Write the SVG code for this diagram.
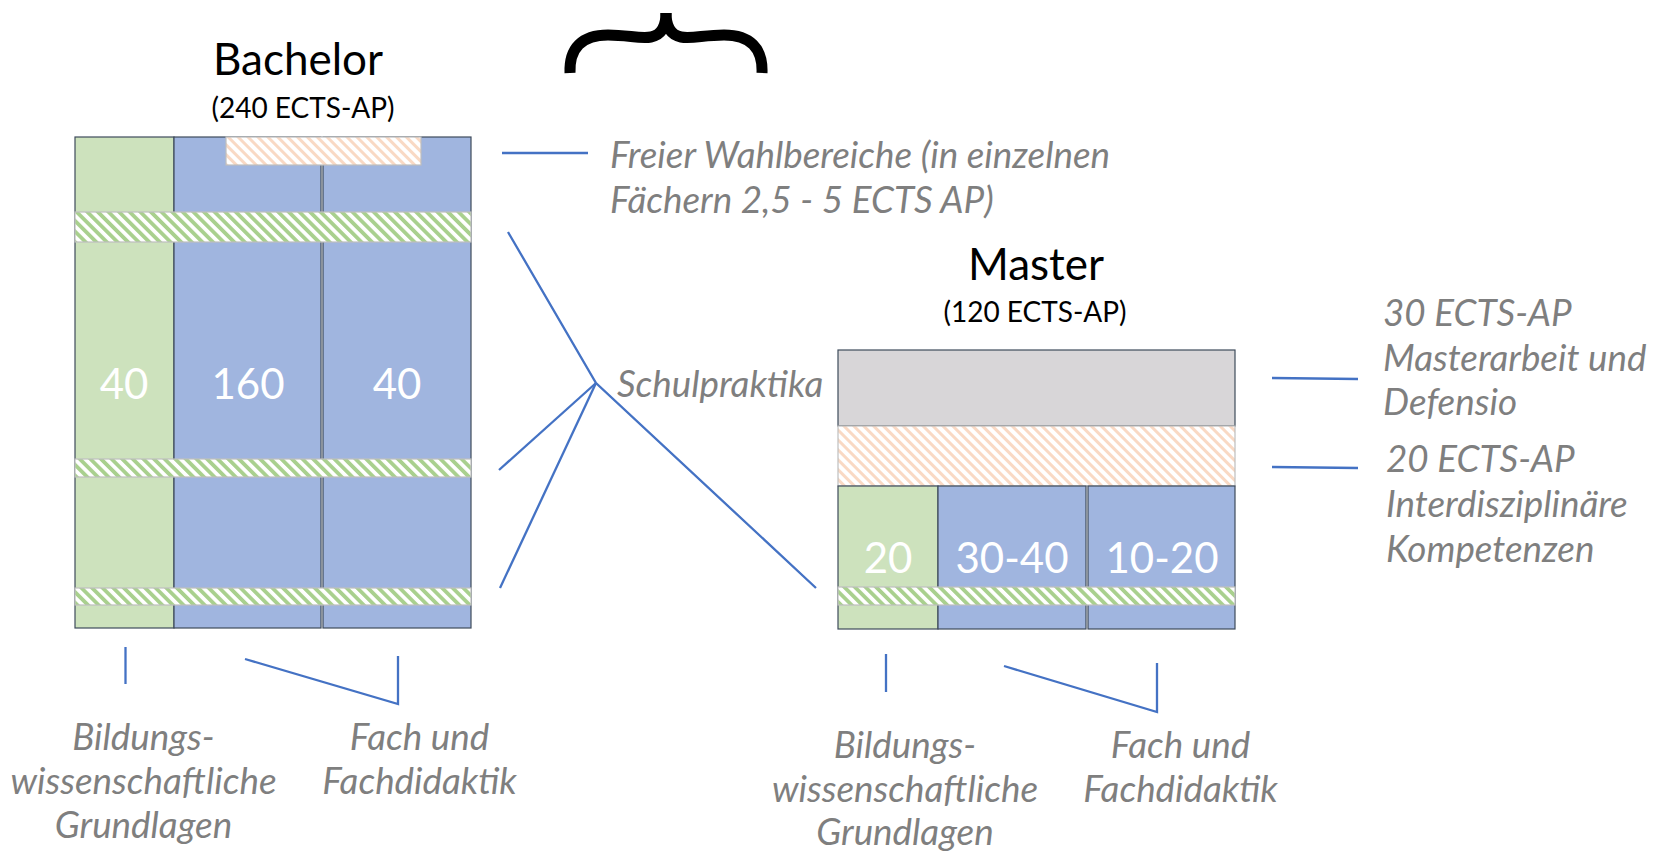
<svg xmlns="http://www.w3.org/2000/svg" width="1666" height="852" viewBox="0 0 1666 852">
<style>
.title{font-family:Lato,"Liberation Sans",sans-serif;fill:#000;text-anchor:middle}
.lbl{font-family:Lato,"Liberation Sans",sans-serif;font-style:italic;font-size:36.8px;fill:#7f7f7f}
.c{text-anchor:middle}
.num{font-family:Lato,"Liberation Sans",sans-serif;font-size:42px;fill:#fff;text-anchor:middle}
.box{stroke:#3e4b5b;stroke-width:1.2}
.g{fill:#cde2bd}
.b{fill:#a0b5df}
.gr{fill:#d8d6d8}
.hg{fill:url(#hatchG);stroke:#bfbfbf;stroke-width:1.2}
.ho{fill:url(#hatchO);stroke:#bfbfbf;stroke-width:1.2}
.ln{stroke:#4472c4;stroke-width:2.3;fill:none}
</style>
<defs>
<pattern id="hatchG" width="7.5" height="7.5" patternUnits="userSpaceOnUse" patternTransform="rotate(-45)">
<rect width="7.5" height="7.5" fill="#fff"/><rect width="3.8" height="7.5" fill="#a9d08e"/>
</pattern>
<pattern id="hatchO" width="7" height="7" patternUnits="userSpaceOnUse" patternTransform="rotate(-45)">
<rect width="7" height="7" fill="#fff"/><rect width="3" height="7" fill="#f9d9c4"/>
</pattern>
</defs>
<rect width="1666" height="852" fill="#fff"/>

<g id="brace" fill="none" stroke="#000" stroke-width="11" stroke-linejoin="round">
<path d="M570,73 C569,48 582,35 608,35 C628,35 640,39 651,37 C661,35 666,27 666,13"/>
<path d="M666,13 C666,27 671,35 681,37 C692,39 704,35 724,35 C750,35 763,48 762,73"/>
</g>

<g id="bachelor">
<text class="title" x="298" y="75" font-size="44">Bachelor</text>
<text class="title" x="303" y="118" font-size="28">(240 ECTS-AP)</text>
<rect class="box g" x="75" y="137" width="99" height="491"/>
<rect class="box b" x="174" y="137" width="147" height="491"/>
<rect class="box b" x="323" y="137" width="148" height="491"/>
<rect class="ho" x="226" y="137" width="195" height="28"/>
<rect class="hg" x="75" y="212" width="396" height="30"/>
<rect class="hg" x="75" y="459" width="396" height="18"/>
<rect class="hg" x="75" y="588" width="396" height="17"/>
<text class="num" x="124" y="399">40</text>
<text class="num" x="248" y="399">160</text>
<text class="num" x="397" y="399">40</text>
</g>

<g id="master">
<text class="title" x="1036" y="280" font-size="44">Master</text>
<text class="title" x="1035" y="322" font-size="28">(120 ECTS-AP)</text>
<rect class="box gr" x="838" y="350" width="397" height="76"/>
<rect class="ho" x="838" y="426" width="397" height="60"/>
<rect class="box g" x="838" y="486" width="100" height="143"/>
<rect class="box b" x="938" y="486" width="148" height="143"/>
<rect class="box b" x="1088" y="486" width="147" height="143"/>
<rect class="hg" x="838" y="587" width="397" height="18"/>
<text class="num" x="888" y="573">20</text>
<text class="num" x="1012" y="573">30-40</text>
<text class="num" x="1162" y="573">10-20</text>
</g>

<g id="connectors">
<line class="ln" x1="502" y1="153" x2="588" y2="153"/>
<polyline class="ln" points="508,232 596,383 816,588"/>
<line class="ln" x1="596" y1="383" x2="499" y2="470"/>
<line class="ln" x1="596" y1="383" x2="500" y2="588"/>
<line class="ln" x1="1272" y1="378" x2="1358" y2="379"/>
<line class="ln" x1="1272" y1="467" x2="1358" y2="468"/>
<line class="ln" x1="125.5" y1="647" x2="125.5" y2="684"/>
<polyline class="ln" points="245,659 398,704 398,656"/>
<line class="ln" x1="886" y1="654" x2="886" y2="692"/>
<polyline class="ln" points="1004,666 1157,712 1157,663"/>
</g>

<g id="labels">
<text class="lbl" x="610" y="168">Freier Wahlbereiche (in einzelnen</text>
<text class="lbl" x="610" y="213">Fächern 2,5 - 5 ECTS AP)</text>
<text class="lbl" x="617" y="397">Schulpraktika</text>
<text class="lbl" x="1383" y="326">30 ECTS-AP</text>
<text class="lbl" x="1383" y="371">Masterarbeit und</text>
<text class="lbl" x="1383" y="415">Defensio</text>
<text class="lbl" x="1386" y="472">20 ECTS-AP</text>
<text class="lbl" x="1386" y="517">Interdisziplinäre</text>
<text class="lbl" x="1386" y="562">Kompetenzen</text>
<text class="lbl c" x="143.5" y="750">Bildungs-</text>
<text class="lbl c" x="143.5" y="794">wissenschaftliche</text>
<text class="lbl c" x="143.5" y="838">Grundlagen</text>
<text class="lbl c" x="419.5" y="750">Fach und</text>
<text class="lbl c" x="419.5" y="794">Fachdidaktik</text>
<text class="lbl c" x="905" y="758">Bildungs-</text>
<text class="lbl c" x="905" y="802">wissenschaftliche</text>
<text class="lbl c" x="905" y="845">Grundlagen</text>
<text class="lbl c" x="1180.5" y="758">Fach und</text>
<text class="lbl c" x="1180.5" y="802">Fachdidaktik</text>
</g>
</svg>
